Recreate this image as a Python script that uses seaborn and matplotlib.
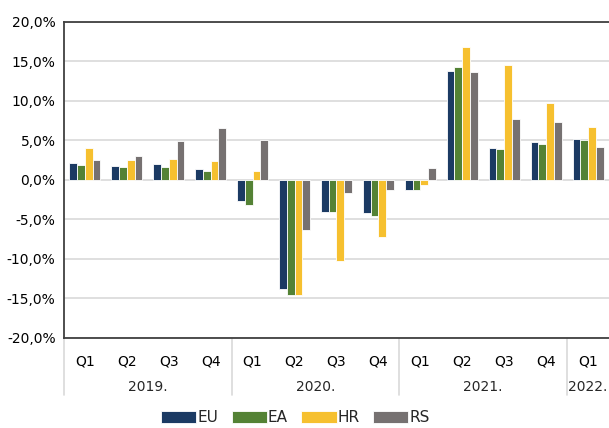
import matplotlib
matplotlib.use("Agg")
import matplotlib.pyplot as plt
import matplotlib.transforms as mtransforms
from matplotlib.ticker import FuncFormatter
import seaborn as sns
import pandas as pd

quarters = ["Q1", "Q2", "Q3", "Q4", "Q1", "Q2", "Q3", "Q4", "Q1", "Q2", "Q3", "Q4", "Q1"]
years = ["2019.", "2020.", "2021.", "2022."]
year_sizes = [4, 4, 4, 1]
series = ["EU", "EA", "HR", "RS"]
eu = [2.2, 1.8, 2.0, 1.4, -2.6, -13.8, -4.1, -4.2, -1.3, 13.8, 4.1, 4.8, 5.2]
ea = [1.9, 1.6, 1.7, 1.2, -3.2, -14.6, -4.1, -4.5, -1.3, 14.3, 3.9, 4.6, 5.1]
hr = [4.1, 2.5, 2.7, 2.4, 1.1, -14.6, -10.3, -7.2, -0.6, 16.8, 14.6, 9.8, 6.7]
rs = [2.5, 3.1, 4.9, 6.6, 5.1, -6.3, -1.6, -1.3, 1.5, 13.7, 7.7, 7.3, 4.2]
colors = ["#1b3a63", "#548235", "#f6c02f", "#767171"]

rows = []
for name, vals in zip(series, [eu, ea, hr, rs]):
    for i, v in enumerate(vals):
        rows.append({"period": i, "series": name, "value": v})
df = pd.DataFrame(rows)

sns.set_theme(style="white")
plt.rcParams["font.family"] = ["Liberation Sans Narrow", "DejaVu Sans"]

fig = plt.figure(figsize=(6.09, 4.28), dpi=100)
ax = fig.add_axes([0.105, 0.2103, 0.895, 0.7383])

sns.barplot(data=df, x="period", y="value", hue="series", palette=colors,
            hue_order=series, width=0.74, saturation=1, edgecolor="white", linewidth=0.6,
            ax=ax, legend=True)

ax.set_ylim(-20, 20)
ax.set_yticks(range(-20, 21, 5))
ax.yaxis.set_major_formatter(FuncFormatter(lambda v, p: f"{v:.1f}".replace(".", ",") + "%"))
ax.yaxis.grid(True, color="#d9d9d9", linewidth=1.2)
ax.set_axisbelow(True)
ax.set_xlim(-0.5, len(quarters) - 0.5)
ax.set_xticks(range(len(quarters)))
ax.set_xticklabels(quarters)
ax.set_xlabel("")
ax.set_ylabel("")
ax.tick_params(axis="both", length=0, labelsize=10, colors="#000000")
ax.tick_params(axis="x", pad=12)
ax.tick_params(axis="y", pad=6)
for s in ["left", "top", "bottom"]:
    ax.spines[s].set_color("#404040")
    ax.spines[s].set_linewidth(1.3)
ax.spines["right"].set_visible(False)

trans = mtransforms.blended_transform_factory(ax.transData, ax.transAxes)
start = 0
bounds = [-0.5]
for yr, n in zip(years, year_sizes):
    center = start + (n - 1) / 2
    ax.text(center, -0.155, yr, transform=trans, ha="center", va="center", fontsize=10)
    start += n
    bounds.append(start - 0.5)
for b in bounds[:-1]:
    ax.plot([b, b], [0, -0.18], transform=trans, color="#d9d9d9", linewidth=1.2, clip_on=False)

handles, labels = ax.get_legend_handles_labels()
ax.legend(handles, labels, loc="center", bbox_to_anchor=(0.485, 0.024), bbox_transform=fig.transFigure,
          ncol=4, frameon=False, fontsize=11, handlelength=2.3, handleheight=0.9,
          handletextpad=0.05, columnspacing=0.9)

fig.savefig("out.png", dpi=100)
